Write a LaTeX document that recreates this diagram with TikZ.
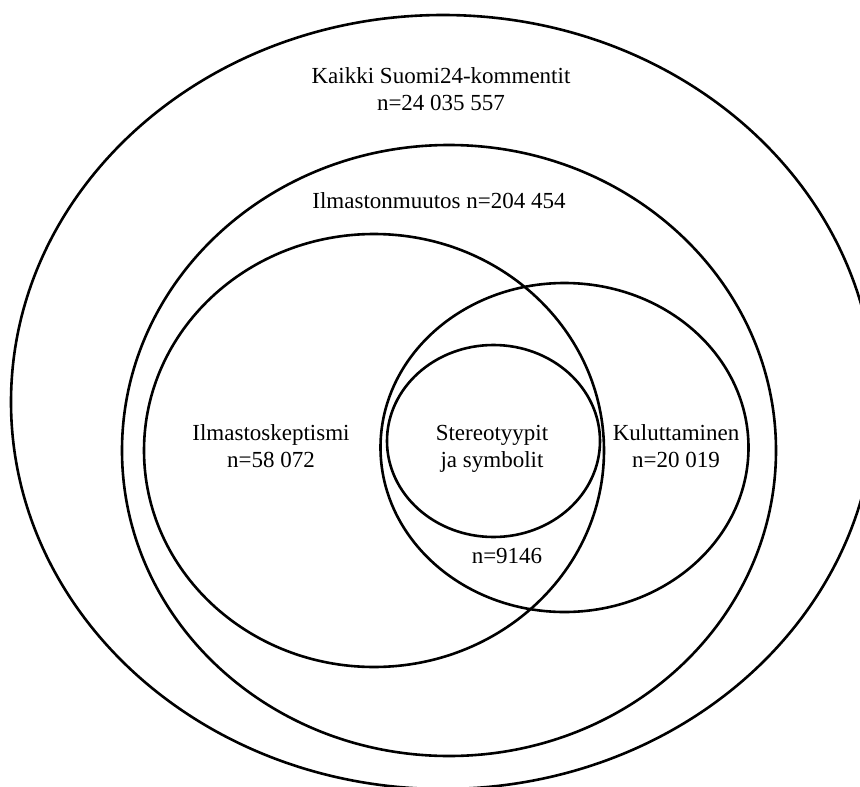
\documentclass[tikz,border=0pt]{standalone}
\usepackage{fontspec}
\setmainfont{Liberation Serif}
\usetikzlibrary{shapes.geometric}

\begin{document}
\begin{tikzpicture}[x=1pt,y=-1pt]

\useasboundingbox (0,0) rectangle (860,787);
\clip (0,0) rectangle (860,787);

\tikzstyle{set}=[shape=ellipse,draw,line width=2.6pt,inner sep=0pt,outer sep=0pt]
\tikzstyle{setname}=[align=center,anchor=base,inner sep=0pt,font=\fontsize{23}{27}\selectfont]

% sets
\path (443,402)     node[set,minimum width=864pt,minimum height=774pt] (Kaikki) {};
\path (449,450.5)   node[set,minimum width=654pt,minimum height=611pt] (Ilmastonmuutos) {};
\path (374,450.5)   node[set,minimum width=460pt,minimum height=433pt] (Skeptismi) {};
\path (564.5,447.5) node[set,minimum width=368pt,minimum height=329pt] (Kuluttaminen) {};
\path (493.5,441)   node[set,minimum width=213pt,minimum height=192pt] (Stereotyypit) {};

% names (base = last line)
\path (441,110) node[setname] (KaikkiName) {Kaikki Suomi24-kommentit\\n=24 035 557};
\path (439,208) node[setname] (IlmastonmuutosName) {Ilmastonmuutos n=204 454};
\path (271,467) node[setname] (SkeptismiName) {Ilmastoskeptismi\\n=58 072};
\path (492,467) node[setname] (StereotyypitName) {Stereotyypit\\ja symbolit};
\path (676,467) node[setname] (KuluttaminenName) {Kuluttaminen\\n=20 019};
\path (507,563) node[setname] (LeikkausName) {n=9146};

\end{tikzpicture}
\end{document}
